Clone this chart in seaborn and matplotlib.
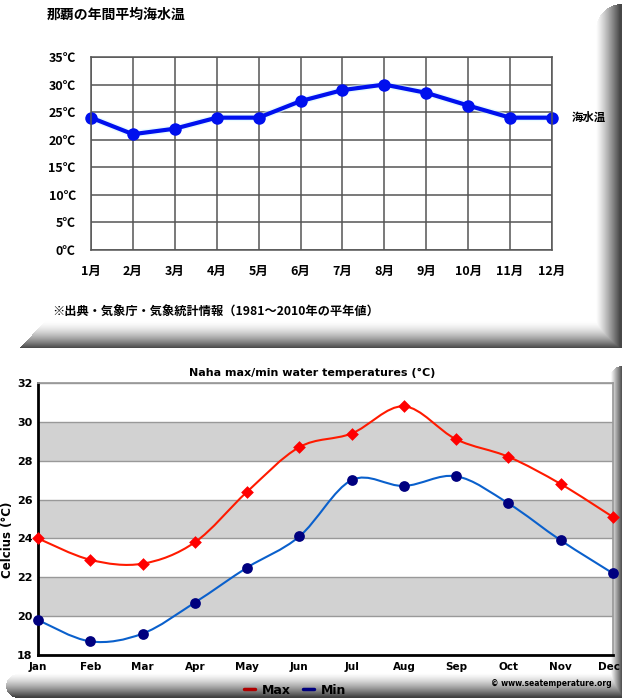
# 那覇の海水温 - dois gráficos empilhados (média anual e máx/mín)

import numpy as np
import pandas as pd
import matplotlib
matplotlib.use("Agg")
import matplotlib.pyplot as plt
import matplotlib.transforms as mtransforms
from matplotlib.path import Path
from matplotlib.patches import PathPatch
from matplotlib.lines import Line2D
import seaborn as sns

# gráfico de cima: média anual
meses_jp = ["1月", "2月", "3月", "4月", "5月", "6月",
            "7月", "8月", "9月", "10月", "11月", "12月"]
temp_media = [24, 21, 22, 24, 24, 27, 29, 30, 28.5, 26.2, 24, 24]
ticks_jp = [0, 5, 10, 15, 20, 25, 30, 35]

# gráfico de baixo: máxima / mínima
meses_en = ["Jan", "Feb", "Mar", "Apr", "May", "Jun",
            "Jul", "Aug", "Sep", "Oct", "Nov", "Dec"]
temp_max = [24.0, 22.9, 22.7, 23.8, 26.4, 28.7, 29.4, 30.8, 29.1, 28.2, 26.8, 25.1]
temp_min = [19.8, 18.7, 19.1, 20.7, 22.5, 24.1, 27.0, 26.7, 27.2, 25.8, 23.9, 22.2]
ticks_en = [18, 20, 22, 24, 26, 28, 30, 32]

sns.set_theme(style="white", rc={"text.color": "black", "xtick.color": "black",
                                 "ytick.color": "black", "axes.labelcolor": "black"})
plt.rcParams['font.family'] = ['Noto Sans CJK JP', 'DejaVu Sans']

W, H = 622, 700
fig = plt.figure(figsize=(W / 100, H / 100), dpi=100)


def caixa(x0, y0, x1, y1):
    # caixa em pixels (origem no topo) -> retângulo da figura
    return [x0 / W, 1 - y1 / H, (x1 - x0) / W, (y1 - y0) / H]


# fundo com as sombras dos painéis
bg = fig.add_axes([0, 0, 1, 1], zorder=0)
bg.set_xlim(0, W)
bg.set_ylim(H, 0)
bg.axis("off")

yy, xx = np.mgrid[0:H, 0:W] + 0.5
escuro = np.zeros((H, W))

# painel de cima - lado direito
d = np.clip((xx - 596) / 24, 0, 1) ** 1.2 * 0.72
m = (yy <= 348) & ((yy >= 30) | ((xx - 622) ** 2 + (yy - 30) ** 2 <= 26 ** 2))
escuro = np.maximum(escuro, np.where(m, d, 0))
# painel de cima - base
d = np.clip((yy - 321) / 27, 0, 1) ** 1.6 * 0.72
m = (yy <= 348) & (xx >= 20 + (348 - yy) * 25 / 27)
escuro = np.maximum(escuro, np.where(m, d, 0))
# painel de baixo - lado direito
d = np.clip((xx - 611) / 11, 0, 1) * 0.7
m = (yy <= 696) & ((yy >= 378) | ((xx - 622) ** 2 + (yy - 378) ** 2 <= 12 ** 2))
escuro = np.maximum(escuro, np.where(m, d, 0))
# painel de baixo - base
d = np.clip((yy - 673) / 24, 0, 1) ** 1.4 * 0.75
m = (yy <= 698) & ((xx >= 18) | ((xx - 18) ** 2 + (yy - 686) ** 2 <= 12 ** 2))
escuro = np.maximum(escuro, np.where(m, d, 0))

img = np.dstack([1 - escuro] * 3)
bg.imshow(img, extent=(0, W, H, 0), aspect="auto", interpolation="bilinear")

# ---------------- gráfico de cima ----------------
ax1 = fig.add_axes(caixa(91, 57, 552, 250), zorder=1)
df_top = pd.DataFrame({"mes": range(12), "temp": temp_media})
sns.lineplot(data=df_top, x="mes", y="temp", ax=ax1, color="#d8f7ff",
             linewidth=5, alpha=0.6)
sns.lineplot(data=df_top, x="mes", y="temp", ax=ax1, color="#0010ee",
             linewidth=3, marker="o", markersize=9, markeredgewidth=0)
for ln in ax1.lines:
    ln.set_clip_on(False)

ax1.set_xlim(0, 11)
ax1.set_ylim(0, 35)
ax1.set_xticks(range(12))
ax1.set_xticklabels(meses_jp)
ax1.set_yticks(ticks_jp)
ax1.set_yticklabels([f"{v}℃" for v in ticks_jp])
ax1.grid(True, color="#555555", linewidth=1.1)
for s in ax1.spines.values():
    s.set_color("#555555")
    s.set_linewidth(1.1)
ax1.tick_params(axis="x", length=3, color="#555555", pad=8, labelsize=9)
ax1.tick_params(axis="y", length=0, pad=11, labelsize=9)
for t in ax1.get_xticklabels() + ax1.get_yticklabels():
    t.set_fontweight("bold")
ax1.set_xlabel("")
ax1.set_ylabel("")

ax1.annotate("海水温", xy=(11, temp_media[-1]), xytext=(14, 0),
             textcoords="offset points", va="center", fontsize=8.2,
             fontweight="bold", annotation_clip=False)

fig.text(47 / W, 1 - 15 / H, "那覇の年間平均海水温", fontsize=10,
         fontweight="bold", va="center")
fig.text(52 / W, 1 - 312 / H, "※出典・気象庁・気象統計情報（1981～2010年の平年値）",
         fontsize=8.8, fontweight="bold", va="center")

# ---------------- gráfico de baixo ----------------
ax2 = fig.add_axes(caixa(38, 383, 613, 655), zorder=1)
for lo in (20, 24, 28):
    ax2.axhspan(lo, lo + 2, color="#d2d2d2", zorder=0, lw=0)


def curva_suave(ax, xs, ys, cor, lw):
    # curva Catmull-Rom desenhada como Bézier pelos pontos dados
    p = np.column_stack([xs, ys]).astype(float)
    ext = np.vstack([p[0], p, p[-1]])
    verts = [tuple(p[0])]
    codes = [Path.MOVETO]
    for i in range(1, len(ext) - 2):
        p0, p1, p2, p3 = ext[i - 1], ext[i], ext[i + 1], ext[i + 2]
        verts += [tuple(p1 + (p2 - p0) / 6), tuple(p2 - (p3 - p1) / 6), tuple(p2)]
        codes += [Path.CURVE4] * 3
    ax.add_patch(PathPatch(Path(verts, codes), facecolor="none",
                           edgecolor=cor, lw=lw, zorder=3, clip_on=False))


curva_suave(ax2, range(12), temp_max, "#ff1a00", 1.5)
curva_suave(ax2, range(12), temp_min, "#0a60cc", 1.5)

df_bot = pd.DataFrame({"mes": range(12), "max": temp_max, "min": temp_min})
sns.scatterplot(data=df_bot, x="mes", y="max", ax=ax2, marker="D", s=42,
                color="#ff0000", linewidth=0, zorder=4)
sns.scatterplot(data=df_bot, x="mes", y="min", ax=ax2, marker="o", s=60,
                color="#00007f", linewidth=0, zorder=4)
for c in ax2.collections:
    c.set_clip_on(False)

ax2.set_xlim(0, 11)
ax2.set_ylim(18, 32)
ax2.set_xticks(range(12))
ax2.set_xticklabels(meses_en)
ax2.set_yticks(ticks_en)
ax2.grid(axis="y", color="#999999", linewidth=1)
ax2.grid(axis="x", visible=False)
ax2.set_axisbelow(True)
ax2.spines["left"].set_color("black")
ax2.spines["left"].set_linewidth(2)
ax2.spines["bottom"].set_color("black")
ax2.spines["bottom"].set_linewidth(2)
ax2.spines["top"].set_color("#999999")
ax2.spines["right"].set_color("#999999")
ax2.tick_params(axis="both", length=0)
ax2.tick_params(axis="x", pad=5, labelsize=7.5)
ax2.tick_params(axis="y", pad=4, labelsize=8)
for t in ax2.get_xticklabels() + ax2.get_yticklabels():
    t.set_fontweight("bold")
    t.set_family("DejaVu Sans")
# "Dec" encostado na borda direita, como no original
ultimo = ax2.get_xticklabels()[-1]
ultimo.set_transform(ultimo.get_transform() +
                     mtransforms.ScaledTranslation(-4 / 100, 0, fig.dpi_scale_trans))
ax2.set_xlabel("")
ax2.set_ylabel("")

fig.text(312 / W, 1 - 373 / H, "Naha max/min water temperatures (°C)",
         ha="center", va="center", fontsize=8, fontweight="bold", family="DejaVu Sans")
fig.text(8 / W, 1 - 540 / H, "Celcius (°C)", rotation=90, ha="center", va="center",
         fontsize=8.5, fontweight="bold", family="DejaVu Sans")
fig.text(612 / W, 1 - 683 / H, "© www.seatemperature.org", ha="right", va="center",
         fontsize=5.5, fontweight="bold", family="DejaVu Sans")

handles = [Line2D([], [], color="#b00000", lw=2.5, label="Max"),
           Line2D([], [], color="#00007f", lw=2.5, label="Min")]
fig.legend(handles=handles, loc="center", bbox_to_anchor=(295 / W, 1 - 690 / H),
           ncol=2, frameon=False, handlelength=0.9, columnspacing=1.0,
           handletextpad=0.5, prop={"family": "DejaVu Sans", "weight": "bold", "size": 9})

plt.savefig("out.png", dpi=100)
